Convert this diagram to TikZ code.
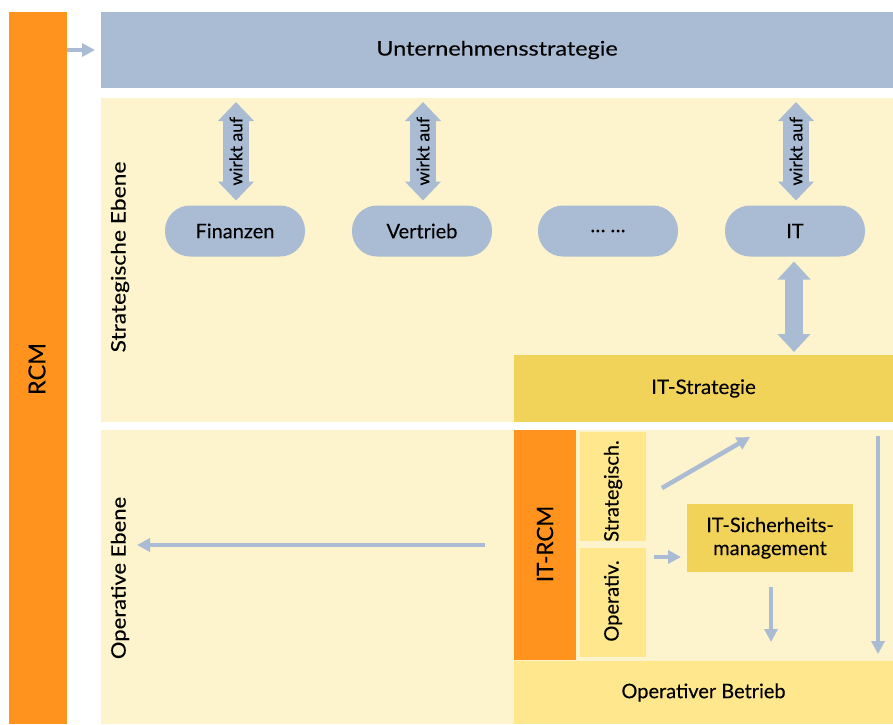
\documentclass[tikz,border=0pt]{standalone}
\usepackage{fontspec}
\setmainfont{Lato}[FakeBold=0.15]
\usetikzlibrary{arrows.meta,calc}
\definecolor{rcmorange}{HTML}{FF931E}
\definecolor{bluegrey}{HTML}{AABCD3}
\definecolor{panelyellow}{HTML}{FDF3CC}
\definecolor{goldbox}{HTML}{F2D35A}
\definecolor{lightgold}{HTML}{FEE78C}
\newcommand{\hstretch}[2]{\scalebox{#1}[1]{#2}}
\tikzset{
  box/.style={draw=none, inner sep=0pt, outer sep=0pt, font=\fontsize{20}{23}\selectfont, align=center},
  pill/.style={box, fill=bluegrey, minimum width=140pt, minimum height=51pt, rounded corners=25pt},
  lbl/.style={font=\fontsize{20}{23}\selectfont, inner sep=0pt},
  thinarrow/.style={draw=bluegrey, line width=4.5pt, -{Triangle[width=13pt,length=13pt]}},
  dblarrow/.style={draw=bluegrey, line width=26pt, {Triangle[width=35pt,length=19pt]}-{Triangle[width=35pt,length=19pt]}},
  itarrow/.style={draw=bluegrey, line width=18pt, {Triangle[width=32pt,length=18pt]}-{Triangle[width=32pt,length=18pt]}},
}
\begin{document}
\begin{tikzpicture}[x=1pt,y=-1pt]
\useasboundingbox[fill=white] (0,0) rectangle (893,724);
% big areas
\node[box, fill=rcmorange, minimum width=58pt, minimum height=712pt] (rcm) at (38,368) {};
\node[lbl, rotate=90, font=\fontsize{23.5}{26}\selectfont] (rcmlabel) at (37,369) {RCM};
\node[box, fill=bluegrey, minimum width=792pt, minimum height=76pt] (us) at (497,50) {\hstretch{1.17}{Unternehmensstrategie}};
\node[box, fill=panelyellow, minimum width=792pt, minimum height=324pt] (strat) at (497,260) {};
\node[box, fill=panelyellow, minimum width=792pt, minimum height=294pt] (oper) at (497,577) {};
\node[lbl, rotate=90] (stratlabel) at (120,257) {\hstretch{1.14}{Strategische Ebene}};
\node[lbl, rotate=90] (operlabel) at (120,578) {\hstretch{1.1}{Operative Ebene}};
% pills
\node[pill] (fin) at (235,231) {Finanzen};
\node[pill] (vert) at (422,231) {Vertrieb};
\node[pill] (dots) at (608,231) {\dots\ \dots};
\node[pill] (it) at (795,231) {IT};
% IT strategy and operational boxes
\node[box, fill=goldbox, minimum width=379pt, minimum height=67pt] (itstrat) at (703.5,388.5) {\hstretch{1.03}{IT-Strategie}};
\node[box, fill=rcmorange, minimum width=62pt, minimum height=230pt] (itrcm) at (545,545) {};
\node[lbl, rotate=90, font=\fontsize{22.5}{25}\selectfont] (itrcmlabel) at (545,544) {IT-RCM};
\node[box, fill=lightgold, minimum width=66pt, minimum height=109pt] (strg) at (613,486.5) {};
\node[lbl, rotate=90] (strglabel) at (613,491) {Strategisch.};
\node[box, fill=lightgold, minimum width=66pt, minimum height=109pt] (opv) at (613,602.5) {};
\node[lbl, rotate=90] (opvlabel) at (613,601) {Operativ.};
\node[box, fill=goldbox, minimum width=166pt, minimum height=68pt] (its) at (770,538) {IT-Sicherheits-\\management};
\node[box, fill=lightgold, minimum width=379pt, minimum height=63pt] (ob) at (703.5,692.5) {Operativer Betrieb};
% arrows
\draw[thinarrow] (rcm.east |- us.west) -- ($(us.west)+(-6,0)$);
\foreach \n in {fin,vert,it}{
  \draw[dblarrow] ($(\n.north |- us.south)+(1,14)$) coordinate (\n top) -- ($(\n.north)+(1,-5)$) coordinate (\n bot)
    node[midway, rotate=90, font=\fontsize{17.5}{20}\selectfont, inner sep=0pt] {wirkt auf};
}
\draw[itarrow] ($(it.south)+(-1,5)$) -- ($(itstrat.north)+(90.5,-3)$);
\coordinate (diagA) at (662,488);
\coordinate (diagB) at (750,437);
\draw[thinarrow] (diagA) -- (diagB);
\coordinate (shortA) at ($(opv.east |- 0,557)+(8,0)$);
\draw[thinarrow] (shortA) -- ($(its.west |- shortA)+(-6,0)$);
\draw[thinarrow] ($(its.south)+(1,15)$) -- ($(its.south |- ob.north)+(1,-19)$);
\draw[thinarrow] (878,436) coordinate (longA) -- ($(ob.north -| longA)+(0,-7)$);
\draw[thinarrow] ($(itrcm.west)+(-29,0)$) -- ($(operlabel.east |- itrcm.west)+(17,0)$);
\end{tikzpicture}
\end{document}
